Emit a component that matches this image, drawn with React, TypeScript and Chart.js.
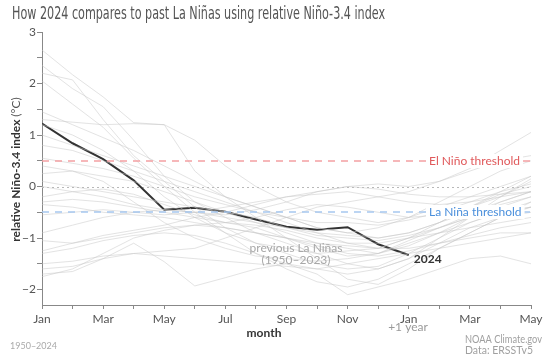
import React, { useEffect, useRef } from "react";
import { Chart, registerables } from "chart.js";

Chart.register(...registerables);

const TITLE = "How 2024 compares to past La Niñas using relative Niño-3.4 index";
const MONTH_TICK_LABELS = ["Jan", "Mar", "May", "Jul", "Sep", "Nov", "Jan", "Mar", "May"];
const Y_TICKS = [-2, -1, 0, 1, 2, 3];
const EL_NINO_THRESHOLD = 0.5;
const LA_NINA_THRESHOLD = -0.5;

// 2024: Jan .. Jan(+1)
const SERIES_2024 = [1.22, 0.84, 0.53, 0.12, -0.45, -0.41, -0.49, -0.64, -0.78, -0.84, -0.79, -1.12, -1.33];

// Previous La Niñas (1950–2023): Jan .. May(+1), 17 months each
const PAST_A = [2.65, 2.17, 1.74, 1.24, 1.2, 0.3, -0.2, -0.6, -1.0, -1.4, -1.8, -1.9, -1.6, -1.2, -0.9, -0.6, -0.3];
const PAST_B = [2.35, 1.9, 1.55, 0.9, 0.2, -0.3, -0.6, -0.9, -1.1, -1.3, -1.5, -1.6, -1.4, -1.0, -0.6, -0.2, 0.1];
const PAST_C = [2.2, 2.07, 1.3, 0.6, 0.1, -0.4, -0.8, -1.1, -1.3, -1.5, -1.6, -1.55, -1.3, -1.0, -0.7, -0.5, -0.3];
const PAST_D = [2.05, 1.6, 1.15, 0.55, 0.0, -0.5, -0.9, -1.3, -1.6, -1.85, -1.95, -1.8, -1.5, -1.2, -0.9, -0.6, -0.4];
const PAST_E = [1.45, 1.2, 0.95, 0.7, 0.4, 0.1, -0.2, -0.4, -0.6, -0.8, -0.9, -0.8, -0.6, -0.3, 0.0, 0.3, 0.5];
const PAST_F = [1.3, 1.25, 1.2, 1.22, 1.2, 0.9, 0.4, 0.0, -0.3, -0.5, -0.6, -0.7, -0.6, -0.4, -0.2, 0.0, 0.2];
const PAST_G = [1.0, 0.8, 0.6, 0.4, 0.2, 0.0, -0.2, -0.4, -0.6, -0.8, -0.9, -1.0, -0.9, -0.7, -0.5, -0.3, -0.1];
const PAST_H = [0.8, 0.7, 0.5, 0.3, 0.1, -0.1, -0.3, -0.5, -0.7, -0.9, -1.1, -1.2, -1.0, -0.8, -0.6, -0.4, -0.2];
const PAST_I = [0.55, 0.45, 0.35, 0.2, 0.0, -0.2, -0.35, -0.5, -0.6, -0.7, -0.7, -0.75, -0.65, -0.5, -0.3, -0.1, 0.05];
const PAST_J = [0.4, 0.3, 0.2, 0.1, -0.1, -0.3, -0.5, -0.7, -0.9, -1.1, -1.2, -1.3, -1.1, -0.9, -0.7, -0.5, -0.4];
const PAST_K = [0.1, 0.0, -0.1, -0.2, -0.3, -0.4, -0.5, -0.6, -0.8, -0.95, -1.0, -1.05, -0.95, -0.8, -0.6, -0.5, -0.4];
const PAST_L = [0.0, -0.1, -0.2, -0.35, -0.45, -0.5, -0.55, -0.45, -0.3, -0.1, 0.0, -0.05, -0.15, -0.2, -0.2, -0.15, -0.1];
const PAST_M = [-0.3, -0.25, -0.3, -0.4, -0.5, -0.6, -0.7, -0.75, -0.85, -1.0, -1.1, -1.1, -1.0, -0.9, -0.8, -0.7, -0.6];
const PAST_N = [-0.35, -0.4, -0.5, -0.55, -0.6, -0.7, -0.8, -0.9, -1.0, -1.1, -1.15, -1.2, -1.2, -1.1, -1.0, -0.9, -0.9];
const PAST_O = [-0.55, -0.5, -0.45, -0.5, -0.55, -0.5, -0.4, -0.3, -0.2, -0.15, -0.1, -0.2, -0.3, -0.35, -0.3, -0.2, -0.1];
const PAST_P = [-0.9, -0.75, -0.6, -0.5, -0.45, -0.5, -0.6, -0.7, -0.8, -0.9, -0.95, -1.0, -0.9, -0.7, -0.4, -0.1, 0.2];
const PAST_Q = [-1.05, -1.1, -1.0, -0.9, -0.8, -0.75, -0.8, -0.9, -1.0, -1.15, -1.3, -1.35, -1.25, -1.1, -0.95, -0.8, -0.7];
const PAST_R = [-1.25, -1.1, -0.95, -0.85, -0.75, -0.6, -0.5, -0.35, -0.2, -0.1, 0.0, 0.05, 0.0, 0.1, 0.35, 0.7, 1.05];
const PAST_S = [-1.3, -1.2, -1.05, -0.95, -0.9, -0.95, -1.1, -1.3, -1.5, -1.6, -1.7, -1.6, -1.4, -1.1, -0.8, -0.6, -0.5];
const PAST_T = [-1.5, -1.45, -1.35, -1.3, -1.25, -1.2, -1.0, -0.8, -0.6, -0.4, -0.3, -0.2, -0.1, 0.1, 0.3, 0.5, 0.6];
const PAST_U = [-1.6, -1.55, -1.4, -1.3, -1.35, -1.4, -1.45, -1.5, -1.55, -1.6, -1.5, -1.4, -1.3, -1.2, -1.1, -1.0, -0.9];
const PAST_V = [-1.7, -1.65, -1.4, -1.1, -1.46, -1.93, -1.77, -1.6, -1.5, -1.7, -2.1, -1.95, -1.8, -1.6, -1.4, -1.35, -1.5];
const PAST_W = [-1.75, -1.6, -1.3, -1.0, -0.85, -0.75, -0.7, -0.8, -1.0, -1.2, -1.35, -1.3, -1.15, -0.9, -0.6, -0.3, -0.1];
const PAST_X = [0.25, 0.3, 0.1, -0.3, -0.7, -1.0, -1.2, -1.35, -1.4, -1.45, -1.4, -1.3, -1.05, -0.8, -0.55, -0.35, -0.2];
const PAST_Y = [1.2, 1.0, 0.7, 0.3, -0.2, -0.6, -0.9, -1.1, -1.2, -1.3, -1.25, -1.2, -1.0, -0.7, -0.4, -0.15, 0.0];
const PAST_Z = [-0.2, -0.1, -0.05, -0.15, -0.35, -0.55, -0.7, -0.6, -0.45, -0.35, -0.4, -0.5, -0.6, -0.55, -0.4, -0.2, 0.15];

const PAST_LA_NINAS = [
  PAST_A, PAST_B, PAST_C, PAST_D, PAST_E, PAST_F, PAST_G, PAST_H, PAST_I, PAST_J, PAST_K, PAST_L, PAST_M,
  PAST_N, PAST_O, PAST_P, PAST_Q, PAST_R, PAST_S, PAST_T, PAST_U, PAST_V, PAST_W, PAST_X, PAST_Y, PAST_Z,
];

const FONT = "Lato, 'Open Sans', sans-serif";

const toPoints = (arr: number[]) => arr.map((y, i) => ({ x: i, y }));

const annotationPlugin = {
  id: "annotations",
  beforeDatasetsDraw(chart: any) {
    const { ctx, chartArea, scales } = chart;
    const y = scales.y;
    ctx.save();
    ctx.lineWidth = 1;
    ctx.strokeStyle = "#b8b8b8";
    ctx.setLineDash([2, 3]);
    const y0 = Math.round(y.getPixelForValue(0)) + 0.5;
    ctx.beginPath();
    ctx.moveTo(chartArea.left, y0);
    ctx.lineTo(chartArea.right, y0);
    ctx.stroke();
    ctx.restore();
  },
  afterDatasetsDraw(chart: any) {
    const { ctx, chartArea, scales } = chart;
    const x = scales.x;
    const y = scales.y;
    ctx.save();
    const drawThreshold = (val: number, lineColor: string, textColor: string, label: string) => {
      const py = Math.round(y.getPixelForValue(val));
      ctx.strokeStyle = lineColor;
      ctx.lineWidth = 1.5;
      ctx.setLineDash([7, 6]);
      ctx.beginPath();
      ctx.moveTo(chartArea.left, py);
      ctx.lineTo(chartArea.right, py);
      ctx.stroke();
      ctx.setLineDash([]);
      ctx.font = `12px ${FONT}`;
      const w = ctx.measureText(label).width;
      const lx = 429;
      ctx.fillStyle = "#ffffff";
      ctx.fillRect(lx - 3, py - 7, w + 6, 14);
      ctx.fillStyle = textColor;
      ctx.textAlign = "left";
      ctx.textBaseline = "middle";
      ctx.fillText(label, lx, py);
    };
    drawThreshold(EL_NINO_THRESHOLD, "#f3a0a2", "#e0595b", "El Niño threshold");
    drawThreshold(LA_NINA_THRESHOLD, "#a6c8f0", "#4a8fdc", "La Niña threshold");

    ctx.fillStyle = "#a8a8a8";
    ctx.font = `12px ${FONT}`;
    ctx.textAlign = "center";
    ctx.textBaseline = "middle";
    ctx.fillText("previous La Niñas", 296, 248);
    ctx.fillText("(1950–2023)", 296, 260);

    const last = SERIES_2024.length - 1;
    ctx.fillStyle = "#333333";
    ctx.font = `bold 12px ${FONT}`;
    ctx.textAlign = "left";
    ctx.fillText("2024", x.getPixelForValue(last) + 5, y.getPixelForValue(SERIES_2024[last]) + 4);
    ctx.restore();
  },
  afterDraw(chart: any) {
    const { ctx, chartArea } = chart;
    ctx.save();
    ctx.fillStyle = "#555555";
    ctx.font = `18px 'Liberation Sans Narrow', 'DejaVu Sans Condensed', Roboto, sans-serif`;
    ctx.textAlign = "left";
    ctx.textBaseline = "alphabetic";
    ctx.fillText(TITLE, 12, 19, 373);

    ctx.save();
    ctx.translate(16, (chartArea.top + chartArea.bottom) / 2 + 1);
    ctx.rotate(-Math.PI / 2);
    ctx.textBaseline = "middle";
    const part1 = "relative Niño-3.4 index ";
    const part2 = "(°C)";
    ctx.font = `12px ${FONT}`;
    const w2 = ctx.measureText(part2).width;
    ctx.font = `bold 12px ${FONT}`;
    const w1 = ctx.measureText(part1).width;
    const total = w1 + w2;
    ctx.fillStyle = "#333333";
    ctx.textAlign = "left";
    ctx.fillText(part1, -total / 2, 0);
    ctx.font = `12px ${FONT}`;
    ctx.fillStyle = "#555555";
    ctx.fillText(part2, -total / 2 + w1, 0);
    ctx.restore();

    ctx.textAlign = "center";
    ctx.textBaseline = "middle";
    ctx.fillStyle = "#333333";
    ctx.font = `bold 12px ${FONT}`;
    ctx.fillText("month", 264, 333);
    ctx.fillStyle = "#9a9a9a";
    ctx.font = `12px ${FONT}`;
    ctx.fillText("+1 year", 408, 327);
    ctx.textAlign = "left";
    ctx.font = `11px ${FONT}`;
    ctx.fillStyle = "#a0a0a0";
    ctx.fillText("NOAA Climate.gov", 465, 339, 77);
    ctx.fillText("Data: ERSSTv5", 465, 350, 68);
    ctx.font = `9px ${FONT}`;
    ctx.fillStyle = "#aaaaaa";
    ctx.fillText("1950–2024", 10, 346);
    ctx.restore();
  },
};

export default function App() {
  const canvasRef = useRef<HTMLCanvasElement | null>(null);

  useEffect(() => {
    document.body.style.margin = "0";
    const canvas = canvasRef.current;
    if (!canvas) return;
    const datasets: any[] = PAST_LA_NINAS.map((arr) => ({
      data: toPoints(arr),
      borderColor: "rgba(200,200,200,0.5)",
      borderWidth: 1,
      pointRadius: 0,
      tension: 0,
    }));
    datasets.push({
      data: toPoints(SERIES_2024),
      borderColor: "#333333",
      borderWidth: 2,
      pointRadius: 0,
      tension: 0,
    });
    const chart = new Chart(canvas, {
      type: "line",
      data: { datasets },
      plugins: [annotationPlugin],
      options: {
        animation: false,
        responsive: false,
        devicePixelRatio: 1,
        layout: { padding: { top: 32, right: 19, left: 0, bottom: 0 } },
        plugins: { legend: { display: false }, tooltip: { enabled: false }, title: { display: false } },
        scales: {
          x: {
            type: "linear",
            min: 0,
            max: 16,
            grid: { display: true, drawOnChartArea: false, tickLength: 4, color: "#888888" },
            border: { display: true, color: "#888888" },
            afterBuildTicks: (scale: any) => {
              scale.ticks = Array.from({ length: 17 }, (_, i) => ({ value: i }));
            },
            afterFit: (scale: any) => {
              scale.height = 51;
            },
            ticks: {
              autoSkip: false,
              maxRotation: 0,
              padding: 3,
              color: "#555555",
              font: { family: FONT, size: 12 },
              callback: (v: any) => (Number(v) % 2 === 0 ? MONTH_TICK_LABELS[Number(v) / 2] : ""),
            },
          },
          y: {
            type: "linear",
            min: -2.3,
            max: 3,
            grid: { display: true, drawOnChartArea: false, tickLength: 5, color: "#888888" },
            border: { display: true, color: "#888888" },
            afterBuildTicks: (scale: any) => {
              const t: any[] = [];
              for (let v = -2; v <= 3.001; v += 0.5) t.push({ value: Math.round(v * 10) / 10 });
              scale.ticks = t;
            },
            afterFit: (scale: any) => {
              scale.width = 42;
            },
            ticks: {
              padding: 1,
              color: "#555555",
              font: { family: FONT, size: 12 },
              callback: (v: any) => {
                const n = Number(v);
                if (!Y_TICKS.includes(n)) return "";
                return n < 0 ? "\u2212" + Math.abs(n) : String(n);
              },
            },
          },
        },
      } as any,
    });
    return () => chart.destroy();
  }, []);

  return (
    <div style={{ position: "absolute", left: 0, top: 0, width: 550, height: 356, background: "#fff" }}>
      <canvas ref={canvasRef} width={550} height={356} />
    </div>
  );
}
